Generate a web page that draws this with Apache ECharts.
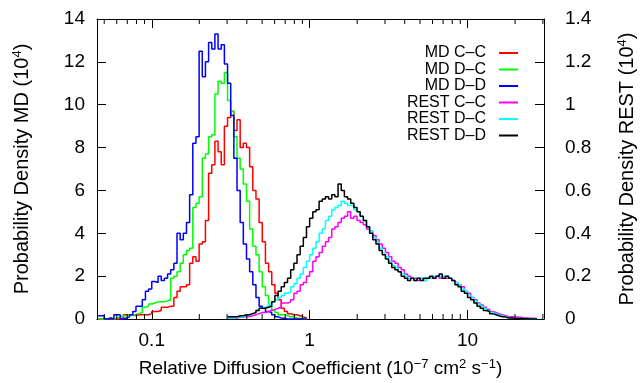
<!DOCTYPE html>
<html><head><meta charset="utf-8">
<script src="https://cdn.jsdelivr.net/npm/echarts@6/dist/echarts.min.js"></script>
<style>html,body{margin:0;padding:0;background:#fff}#c{width:644px;height:383px}</style>
</head><body><div id="c"></div>
<script>
// ---- data ----
const seriesNames = ['MD C–C', 'MD D–C', 'MD D–D', 'REST C–C', 'REST D–C', 'REST D–D'];
const xTickLabels = [0.1, 1, 10];
const xMinorTicks = [0.05,0.06,0.07,0.08,0.09,0.2,0.3,0.4,0.5,0.6,0.7,0.8,0.9,2,3,4,5,6,7,8,9,20,30];
// histogram bins: left edge of first bin (log10) and bin width (log10)
const mdBinLog0 = -1.34;
const restBinLog0 = -0.52;
const binLogWidth = 0.02;

const mdCC = [0,0,0,0,0,0,0,0.05,0.2,0.2,
  0.2,0.15,0.2,0.2,0.2,0.2,0.25,0.35,0.35,0.4,
  0.55,0.55,0.6,0.6,1.0,1.3,1.5,1.5,1.6,2.6,
  2.9,2.7,3.5,3.6,4.6,6.8,7.2,8.3,7.8,7.2,
  9.0,9.4,9.7,8.8,9.3,8.0,8.2,8.0,7.1,6.0,
  5.6,4.5,3.6,2.6,2.2,1.6,1.2,0.9,0.5,0.35,
  0.25,0.2,0.2,0.15,0.1,0.05];
const mdDC = [0,0,0,0.05,0,0.05,0.1,0.15,0.15,0.2,
  0.2,0.2,0.25,0.3,0.55,0.6,0.7,0.75,0.8,0.8,
  0.8,0.85,0.9,1.9,2.0,2.2,2.6,3.0,3.2,3.3,
  5.2,5.4,5.7,7.5,7.7,8.5,8.6,10.5,11.1,11.0,
  11.5,10.2,9.7,8.5,7.5,7.0,6.3,5.5,4.2,3.4,
  3.0,2.2,1.5,1.1,0.6,0.4,0.3,0.2,0.2,0.15,
  0.1,0.1,0.05,0.03,0,0];
const mdDD = [0.15,0.15,0,0.05,0,0.2,0.2,0,0.05,0.1,
  0.2,0.35,0.6,0.6,0.9,1.3,1.4,1.75,1.7,2.0,
  1.8,1.9,2.1,2.3,2.6,4.0,3.7,4.0,4.5,5.8,
  8.2,8.5,12.5,11.3,12.0,12.9,12.6,13.3,12.6,12.8,
  11.9,11.0,9.5,7.5,6.0,4.5,3.5,2.8,2.2,1.6,
  1.0,0.6,0.5,0.35,0.3,0.2,0.1,0.05,0.03,0,
  0,0,0,0,0,0];
const restCC = [0.005,0.005,0.005,0.008,0.01,0.01,0.012,0.015,0.02,0.025,
  0.03,0.03,0.035,0.04,0.045,0.05,0.055,0.075,0.075,0.08,
  0.09,0.12,0.13,0.16,0.17,0.2,0.22,0.27,0.29,0.31,
  0.34,0.36,0.38,0.42,0.43,0.45,0.47,0.48,0.5,0.47,
  0.48,0.46,0.45,0.44,0.42,0.41,0.39,0.37,0.35,0.33,
  0.31,0.29,0.27,0.26,0.24,0.23,0.21,0.2,0.19,0.19,
  0.18,0.19,0.18,0.19,0.19,0.19,0.2,0.19,0.2,0.19,
  0.19,0.18,0.17,0.16,0.15,0.13,0.12,0.1,0.09,0.075,
  0.065,0.055,0.045,0.035,0.03,0.025,0.02,0.015,0.012,0.01,
  0.01,0.008,0.008,0.006,0.005,0.004,0.003,0.002];
const restDC = [0.005,0.005,0.008,0.01,0.01,0.015,0.02,0.025,0.03,0.04,
  0.05,0.055,0.06,0.07,0.08,0.09,0.1,0.11,0.12,0.125,
  0.15,0.165,0.19,0.21,0.24,0.27,0.3,0.33,0.36,0.4,
  0.42,0.46,0.48,0.51,0.52,0.53,0.55,0.54,0.53,0.53,
  0.51,0.5,0.48,0.46,0.43,0.41,0.38,0.36,0.33,0.31,
  0.29,0.27,0.25,0.24,0.22,0.21,0.2,0.19,0.19,0.18,
  0.19,0.19,0.18,0.19,0.19,0.2,0.2,0.2,0.2,0.2,
  0.19,0.18,0.17,0.16,0.14,0.13,0.11,0.1,0.085,0.07,
  0.06,0.05,0.04,0.03,0.025,0.02,0.015,0.01,0.008,0.005,
  0.004,0.003,0.002,0.002,0.001,0.001,0,0];
const restDD = [0.01,0.01,0.01,0.015,0.015,0.02,0.02,0.025,0.03,0.04,
  0.05,0.05,0.055,0.06,0.08,0.11,0.13,0.15,0.17,0.19,
  0.23,0.26,0.3,0.34,0.38,0.43,0.47,0.5,0.51,0.55,
  0.56,0.57,0.56,0.58,0.57,0.63,0.6,0.57,0.56,0.54,
  0.52,0.5,0.48,0.46,0.43,0.4,0.37,0.35,0.32,0.3,
  0.28,0.26,0.24,0.23,0.22,0.2,0.19,0.18,0.19,0.18,
  0.19,0.18,0.19,0.19,0.2,0.19,0.2,0.21,0.19,0.2,
  0.19,0.18,0.16,0.15,0.13,0.12,0.1,0.09,0.075,0.06,
  0.05,0.04,0.035,0.025,0.02,0.015,0.01,0.01,0.005,0.005,
  0.003,0.002,0.002,0.001,0.001,0,0,0];

// ---- build ----
function histData(vals, log0) {
  const d = vals.map((v, i) => [Math.pow(10, log0 + binLogWidth * i), v]);
  d.push([Math.pow(10, log0 + binLogWidth * vals.length), 0]);
  return d;
}
const FONT = 'Liberation Sans, Arial, Helvetica, sans-serif';
const colors = ['#ff0000', '#00ff00', '#0000ff', '#ff00ff', '#00ffff', '#000000'];
const dataSets = [[mdCC, mdBinLog0, 0], [mdDC, mdBinLog0, 0], [mdDD, mdBinLog0, 0],
                  [restCC, restBinLog0, 1], [restDC, restBinLog0, 1], [restDD, restBinLog0, 1]];
const supRich = { sup: { fontSize: 13, lineHeight: 8, verticalAlign: 'top', fontFamily: FONT, color: '#000' } };

const lineSeries = dataSets.map((ds, k) => ({
  name: seriesNames[k], type: 'line', step: 'end', xAxisIndex: 0, yAxisIndex: ds[2],
  data: histData(ds[0], ds[1]), symbol: 'none', clip: false,
  lineStyle: { color: colors[k], width: 1.5 }, itemStyle: { color: colors[k] },
  emphasis: { disabled: true }, animation: false
}));

const xMin = 0.045, xMax = 30.5;
const xLabelFmt = v => {
  const r = +(+v).toPrecision(3);
  return xTickLabels.indexOf(r) >= 0 ? String(r) : '';
};

const option = {
  backgroundColor: '#fff',
  animation: false,
  grid: { left: 97, right: 100, top: 19, bottom: 64, containLabel: false, outerBoundsMode: 'none' },
  legend: {
    orient: 'vertical', right: 126, top: 45, align: 'right', padding: 0,
    icon: 'rect', itemWidth: 19, itemHeight: 2, itemGap: 0.5,
    textStyle: { fontSize: 16, fontFamily: FONT, color: '#000', lineHeight: 16, padding: [0, 8, 0, 0] },
    data: seriesNames, selectedMode: false
  },
  xAxis: [{
    type: 'log', logBase: 10, min: xMin, max: xMax, position: 'bottom',
    axisLine: { show: true, onZero: false, lineStyle: { color: '#000', width: 1 } },
    axisTick: { show: true, inside: true, length: 9, lineStyle: { color: '#000' } },
    splitLine: { show: false }, minorTick: { show: false },
    axisLabel: { show: true, margin: 12, fontSize: 19, fontFamily: FONT, color: '#000', formatter: xLabelFmt },
    name: 'Relative Diffusion Coefficient (10{sup|−7} cm{sup|2} s{sup|−1})',
    nameLocation: 'middle', nameGap: 39,
    nameTextStyle: { fontSize: 19, fontFamily: FONT, color: '#000', lineHeight: 22, rich: supRich }
  }, {
    type: 'log', logBase: 10, min: xMin, max: xMax, position: 'top',
    axisLine: { show: true, onZero: false, lineStyle: { color: '#000', width: 1 } },
    axisTick: { show: true, inside: true, length: 9, lineStyle: { color: '#000' } },
    splitLine: { show: false }, axisLabel: { show: false }
  }],
  yAxis: [{
    type: 'value', min: 0, max: 14, interval: 2, position: 'left',
    axisLine: { show: true, lineStyle: { color: '#000', width: 1 } },
    axisTick: { show: true, inside: true, length: 9, lineStyle: { color: '#000' } },
    splitLine: { show: false },
    axisLabel: { margin: 12, fontSize: 19, fontFamily: FONT, color: '#000' },
    name: 'Probability Density MD (10{sup|4})', nameLocation: 'middle', nameRotate: 90, nameGap: 64,
    nameTextStyle: { fontSize: 20, fontFamily: FONT, color: '#000', lineHeight: 22, rich: supRich }
  }, {
    type: 'value', min: 0, max: 1.4, interval: 0.2, position: 'right',
    axisLine: { show: true, lineStyle: { color: '#000', width: 1 } },
    axisTick: { show: true, inside: true, length: 9, lineStyle: { color: '#000' } },
    splitLine: { show: false },
    axisLabel: { margin: 21, fontSize: 19, fontFamily: FONT, color: '#000' },
    name: 'Probability Density REST (10{sup|4})', nameLocation: 'middle', nameRotate: 90, nameGap: 72,
    nameTextStyle: { fontSize: 20, fontFamily: FONT, color: '#000', lineHeight: 22, rich: supRich }
  }],
  series: lineSeries.concat([{
    type: 'custom', xAxisIndex: 0, yAxisIndex: 0, silent: true, z: 5,
    data: xMinorTicks.map(v => [v]), encode: { x: 0 },
    renderItem: (params, api) => {
      const x = api.coord([api.value(0), 0])[0];
      const cs = params.coordSys;
      const yb = cs.y + cs.height, yt = cs.y;
      return { type: 'group', children: [
        { type: 'line', shape: { x1: x, y1: yb, x2: x, y2: yb - 5 }, style: { stroke: '#000', lineWidth: 1 } },
        { type: 'line', shape: { x1: x, y1: yt, x2: x, y2: yt + 5 }, style: { stroke: '#000', lineWidth: 1 } }
      ]};
    }
  }])
};
const chart = echarts.init(document.getElementById('c'), null, { renderer: 'canvas' });
chart.setOption(option);
</script></body></html>
